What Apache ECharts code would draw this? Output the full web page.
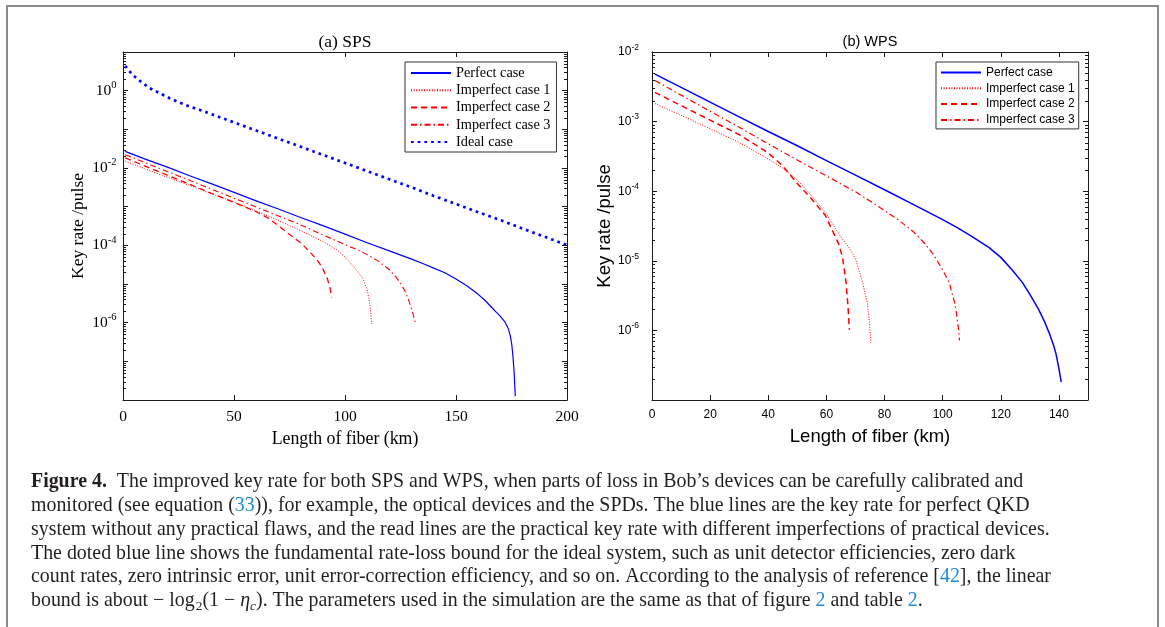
<!DOCTYPE html>
<html>
<head>
<meta charset="utf-8">
<title>Figure 4</title>
<script src="https://cdn.jsdelivr.net/npm/echarts@6/dist/echarts.min.js"></script>
<style>
  html, body { margin: 0; padding: 0; background: #fff; }
  #main { width: 1165px; height: 627px; }
</style>
</head>
<body>
<div id="main"></div>
<script>
// (a) SPS -- length of fiber (km) and key rate per pulse
const spsPerfectKm = [1, 10, 20, 30, 40, 50, 60, 70, 80, 90, 100, 110, 120, 130, 135, 140, 145, 150, 155, 160, 163, 166, 168, 170, 172, 173.5, 174.5, 175.2, 175.7, 176.2, 176.7];
const spsPerfectRate = [2.69e-2, 1.70e-2, 1.05e-2, 6.3e-3, 3.9e-3, 2.34e-3, 1.41e-3, 8.7e-4, 5.25e-4, 3.24e-4, 1.95e-4, 1.17e-4, 7.2e-5, 4.4e-5, 3.4e-5, 2.57e-5, 1.95e-5, 1.35e-5, 8.9e-6, 5.4e-6, 3.8e-6, 2.5e-6, 1.9e-6, 1.45e-6, 1.05e-6, 7.1e-7, 4.5e-7, 2.5e-7, 1.26e-7, 5.0e-8, 1.26e-8];
const spsCase1Km = [1, 10, 20, 30, 40, 50, 60, 70, 80, 90, 96, 100, 104, 108, 110, 111, 111.6, 112];
const spsCase1Rate = [1.51e-2, 9.5e-3, 5.75e-3, 3.55e-3, 2.14e-3, 1.32e-3, 7.8e-4, 4.4e-4, 2.4e-4, 1.26e-4, 7.9e-5, 5.0e-5, 2.8e-5, 1.41e-5, 7.1e-6, 3.5e-6, 1.86e-6, 9.3e-7];
const spsCase2Km = [1, 10, 20, 30, 40, 50, 60, 65, 70, 75, 80, 85, 88, 90, 92, 93.2, 94];
const spsCase2Rate = [1.82e-2, 1.12e-2, 6.5e-3, 3.8e-3, 2.19e-3, 1.29e-3, 7.4e-4, 5.25e-4, 3.24e-4, 1.91e-4, 1.17e-4, 6.0e-5, 3.8e-5, 2.5e-5, 1.41e-5, 8.1e-6, 4.5e-6];
const spsCase3Km = [1, 10, 20, 30, 40, 50, 60, 70, 80, 90, 100, 105, 110, 115, 120, 123, 125, 127, 128.5, 130, 131, 131.8];
const spsCase3Rate = [2.21e-2, 1.38e-2, 8.1e-3, 4.8e-3, 2.82e-3, 1.66e-3, 9.8e-4, 5.75e-4, 3.39e-4, 1.86e-4, 1.05e-4, 7.9e-5, 5.75e-5, 3.9e-5, 2.34e-5, 1.51e-5, 1.05e-5, 6.6e-6, 4.1e-6, 2.24e-6, 1.41e-6, 9.3e-7];
const spsIdealKm = [1, 2.7, 4.5, 8, 12, 17, 21, 26, 30, 35, 40, 50, 60, 70, 80, 90, 100, 110, 120, 130, 140, 150, 160, 170, 180, 190, 200];
const spsIdealRate = [4.37, 3.27, 2.51, 1.72, 1.17, 0.832, 0.638, 0.479, 0.389, 0.313, 0.245, 0.151, 0.0933, 0.0575, 0.0355, 0.0219, 0.0135, 8.3e-3, 5.1e-3, 3.16e-3, 1.9e-3, 1.17e-3, 7.2e-4, 4.5e-4, 2.7e-4, 1.66e-4, 1.02e-4];

// (b) WPS
const wpsPerfectKm = [1, 10, 20, 30, 40, 50, 60, 70, 80, 90, 100, 105, 110, 116, 120, 124, 127.4, 130, 133, 135, 136.6, 138, 139, 140, 140.8];
const wpsPerfectRate = [4.8e-3, 3.1e-3, 1.9e-3, 1.17e-3, 7.2e-4, 4.5e-4, 2.75e-4, 1.7e-4, 1.05e-4, 6.4e-5, 3.9e-5, 3.0e-5, 2.25e-5, 1.55e-5, 1.12e-5, 7.3e-6, 4.9e-6, 3.3e-6, 2.0e-6, 1.35e-6, 9.3e-7, 6.4e-7, 4.6e-7, 2.8e-7, 1.8e-7];
const wpsCase1Km = [1, 10, 20, 30, 40, 45, 50, 55, 60, 64.5, 68, 70, 72.4, 74.1, 74.9, 75.3];
const wpsCase1Rate = [1.82e-3, 1.23e-3, 7.9e-4, 5.0e-4, 2.9e-4, 2.14e-4, 1.45e-4, 8.5e-5, 4.7e-5, 2.34e-5, 1.51e-5, 1.07e-5, 5.0e-6, 2.45e-6, 1.15e-6, 6.6e-7];
const wpsCase2Km = [1, 10, 20, 30, 40, 45, 50, 54.5, 59.6, 62.3, 64.2, 65.5, 66.8, 67.5, 67.9];
const wpsCase2Rate = [2.63e-3, 1.7e-3, 1.05e-3, 6.5e-4, 3.55e-4, 2.3e-4, 1.29e-4, 8.1e-5, 4.5e-5, 2.6e-5, 1.75e-5, 1.15e-5, 4.8e-6, 2.0e-6, 1.02e-6];
const wpsCase3Km = [1, 10, 20, 30, 40, 50, 60, 70, 78, 85, 90, 94, 97, 100, 102.3, 104, 104.6, 105.2, 105.5, 105.8];
const wpsCase3Rate = [3.9e-3, 2.4e-3, 1.41e-3, 8.3e-4, 4.8e-4, 2.8e-4, 1.66e-4, 9.8e-5, 6.0e-5, 3.8e-5, 2.6e-5, 1.74e-5, 1.2e-5, 7.4e-6, 4.8e-6, 2.6e-6, 1.95e-6, 1.26e-6, 1.0e-6, 7.2e-7];

// axes: [min, max, interval] and the powers of ten that get a label
const spsXRange = [0, 200, 50];
const wpsXRange = [0, 150, 20];
const spsYExpRange = [-8, 1];
const wpsYExpRange = [-7, -2];
const spsYLabelExps = [0, -2, -4, -6];
const wpsYLabelExps = [-2, -3, -4, -5, -6];

const spsLegend = ['Perfect case', 'Imperfect case 1', 'Imperfect case 2', 'Imperfect case 3', 'Ideal case'];
const wpsLegend = ['Perfect case', 'Imperfect case 1', 'Imperfect case 2', 'Imperfect case 3'];

const captionLines = [
  '{b|Figure 4.}  The improved key rate for both SPS and WPS, when parts of loss in Bob\u2019s devices can be carefully calibrated and',
  'monitored (see equation ({l|33})), for example, the optical devices and the SPDs. The blue lines are the key rate for perfect QKD',
  'system without any practical flaws, and the read lines are the practical key rate with different imperfections of practical devices.',
  'The doted blue line shows the fundamental rate-loss bound for the ideal system, such as unit detector efficiencies, zero dark',
  'count rates, zero intrinsic error, unit error-correction efficiency, and so on. According to the analysis of reference [{l|42}], the linear',
  'bound is about \u2212 log{d|2}(1 \u2212 {i|\u03b7}{c|c}). The parameters used in the simulation are the same as that of figure {l|2} and table {l|2}.'
];

const SERIF = '"Liberation Serif", "DejaVu Serif", serif';
const SANS = '"Liberation Sans", Arial, sans-serif';
const AXIS = '#1a1a1a';
const BLUE = '#0000ff';
const RED = '#ff0000';
const CAP = 19.9;

const lineLook = {
  'Perfect case': { color: BLUE, type: 'solid', width: 1.2 },
  'Imperfect case 1': { color: RED, type: [1, 1.6], width: 1 },
  'Imperfect case 2': { color: RED, type: [6, 4], width: 1.3 },
  'Imperfect case 3': { color: RED, type: [6, 3, 1.5, 3], width: 1.1 },
  'Ideal case': { color: BLUE, type: [2.7, 4], width: 2.7 }
};

function pairs(xs, ys) {
  return xs.map(function (x, i) { return [x, ys[i]]; });
}

function curve(name, axisIdx, km, rate, width) {
  const look = lineLook[name];
  return {
    type: 'line', name: name, xAxisIndex: axisIdx, yAxisIndex: axisIdx,
    data: pairs(km, rate),
    showSymbol: false, symbol: 'none', animation: false, silent: true, z: 2,
    itemStyle: { color: look.color },
    lineStyle: { color: look.color, type: look.type, width: width || look.width, cap: 'butt', join: 'round' }
  };
}

// short inside ticks at 2..9 x 10^n on both vertical sides (MATLAB style)
function minorTicks(axisIdx, xMax, expRange) {
  const vals = [];
  for (let e = expRange[0]; e < expRange[1]; e++) {
    for (let k = 2; k <= 9; k++) vals.push([0, k * Math.pow(10, e)]);
  }
  return {
    type: 'custom', xAxisIndex: axisIdx, yAxisIndex: axisIdx, silent: true, clip: false, z: 3,
    animation: false, data: vals,
    renderItem: function (params, api) {
      const l = api.coord([0, api.value(1)]);
      const r = api.coord([xMax, api.value(1)]);
      const y = Math.round(l[1]) + 0.5;
      return {
        type: 'group', children: [
          { type: 'line', shape: { x1: l[0], y1: y, x2: l[0] + 3, y2: y }, style: { stroke: AXIS, lineWidth: 1 } },
          { type: 'line', shape: { x1: r[0], y1: y, x2: r[0] - 3, y2: y }, style: { stroke: AXIS, lineWidth: 1 } }
        ]
      };
    }
  };
}

function xAxes(gridIndex, range, font, labelSize, nameSize) {
  const base = {
    type: 'value', gridIndex: gridIndex, min: range[0], max: range[1], interval: range[2],
    splitLine: { show: false },
    axisLine: { onZero: false, lineStyle: { color: AXIS, width: 1 } },
    axisTick: { inside: true, length: 5, lineStyle: { color: AXIS } }
  };
  return [
    Object.assign({}, base, {
      position: 'bottom',
      axisLabel: { margin: 9, color: '#000', fontFamily: font, fontSize: labelSize, showMaxLabel: range[1] % range[2] === 0 },
      name: 'Length of fiber (km)', nameLocation: 'middle', nameGap: 27,
      nameTextStyle: { fontFamily: font, fontSize: nameSize, color: '#000' }
    }),
    Object.assign({}, base, { position: 'top', axisLabel: { show: false } })
  ];
}

function yAxes(gridIndex, expRange, labelExps, font, baseSize, supSize, supLift, margin, nameSize, nameGap) {
  const base = {
    type: 'log', logBase: 10, gridIndex: gridIndex,
    min: Math.pow(10, expRange[0]), max: Math.pow(10, expRange[1]),
    splitLine: { show: false },
    axisLine: { onZero: false, lineStyle: { color: AXIS, width: 1 } },
    axisTick: { inside: true, length: 5, lineStyle: { color: AXIS } }
  };
  return [
    Object.assign({}, base, {
      position: 'left',
      axisLabel: {
        margin: margin,
        formatter: function (v) {
          const e = Math.round(Math.log10(v));
          return labelExps.indexOf(e) >= 0 ? '{b|10}{s|' + e + '}' : '';
        },
        rich: {
          b: { fontFamily: font, fontSize: baseSize, color: '#000' },
          s: { fontFamily: font, fontSize: supSize, color: '#000', padding: [0, 0, supLift, 0] }
        }
      },
      name: 'Key rate /pulse', nameLocation: 'middle', nameGap: nameGap, nameRotate: 90,
      nameTextStyle: { fontFamily: font, fontSize: nameSize, color: '#000' }
    }),
    Object.assign({}, base, { position: 'right', axisLabel: { show: false } })
  ];
}

function legendBox(names, left, top, padding, gap, itemHeight, font, size) {
  return {
    data: names, orient: 'vertical', left: left, top: top, padding: padding,
    itemGap: gap, itemWidth: 40, itemHeight: itemHeight, selectedMode: false,
    borderColor: '#333', borderWidth: 1, borderRadius: 0, backgroundColor: '#fff',
    itemStyle: { opacity: 0 },
    textStyle: { fontFamily: font, fontSize: size, color: '#000', lineHeight: itemHeight }
  };
}

const captionRich = {
  b: { fontFamily: SERIF, fontSize: CAP, fontWeight: 'bold', fill: '#231f20' },
  l: { fontFamily: SERIF, fontSize: CAP, fill: '#1f8ad2' },
  i: { fontFamily: SERIF, fontSize: CAP, fontStyle: 'italic', fill: '#231f20' },
  d: { fontFamily: SERIF, fontSize: 13.5, fill: '#231f20', padding: [10, 0, 0, 1] },
  c: { fontFamily: SERIF, fontSize: 13.5, fontStyle: 'italic', fill: '#231f20', padding: [10, 0, 0, 0] }
};

const graphics = [
  { type: 'rect', silent: true, shape: { x: 7, y: 6, width: 1151, height: 700 },
    style: { fill: 'none', stroke: '#8a8a8a', lineWidth: 2 } },
  { type: 'text', silent: true, style: { x: 345, y: 42, text: '(a) SPS', align: 'center', verticalAlign: 'middle',
    fontFamily: SERIF, fontSize: 17.5, fill: '#000' } },
  { type: 'text', silent: true, style: { x: 870, y: 42, text: '(b) WPS', align: 'center', verticalAlign: 'middle',
    fontFamily: SANS, fontSize: 14.5, fill: '#000' } }
];
captionLines.forEach(function (t, i) {
  graphics.push({
    type: 'text', silent: true,
    style: { x: 31, y: 482 + i * 23.8, text: t, align: 'left', verticalAlign: 'middle',
      fontFamily: SERIF, fontSize: CAP, fill: '#231f20', rich: captionRich }
  });
});

const chart = echarts.init(document.getElementById('main'), null, { renderer: 'canvas' });

chart.setOption({
  animation: false,
  backgroundColor: '#fff',
  grid: [
    { left: 123, top: 52, width: 444, height: 348 },
    { left: 652, top: 52, width: 436, height: 348 }
  ],
  xAxis: xAxes(0, spsXRange, SERIF, 15.5, 17.8).concat(xAxes(1, wpsXRange, SANS, 12, 18.5))
    .map(function (a, i) { return Object.assign(a, { gridIndex: i < 2 ? 0 : 1 }); }),
  yAxis: yAxes(0, spsYExpRange, spsYLabelExps, SERIF, 15.5, 10.5, 11, 6.5, 17.5, 36)
    .concat(yAxes(1, wpsYExpRange, wpsYLabelExps, SANS, 12, 8.5, 9, 13, 18.5, 35)),
  legend: [
    legendBox(spsLegend, 405, 62, [4, 6, 3, 5], 3.25, 14, SERIF, 14.3),
    legendBox(wpsLegend, 936, 62, [4.5, 4, 3, 4], 3.8, 12, SANS, 12)
  ],
  graphic: graphics,
  series: [
    curve('Perfect case', 0, spsPerfectKm, spsPerfectRate),
    curve('Imperfect case 1', 0, spsCase1Km, spsCase1Rate),
    curve('Imperfect case 2', 0, spsCase2Km, spsCase2Rate),
    curve('Imperfect case 3', 0, spsCase3Km, spsCase3Rate),
    curve('Ideal case', 0, spsIdealKm, spsIdealRate),
    minorTicks(0, spsXRange[1], spsYExpRange),
    // the top x axis / right y axis carry no data, so WPS uses indices 2
    curve('Perfect case', 2, wpsPerfectKm, wpsPerfectRate, 1.5),
    curve('Imperfect case 1', 2, wpsCase1Km, wpsCase1Rate),
    curve('Imperfect case 2', 2, wpsCase2Km, wpsCase2Rate, 1.5),
    curve('Imperfect case 3', 2, wpsCase3Km, wpsCase3Rate, 1.2),
    minorTicks(2, wpsXRange[1], wpsYExpRange)
  ]
});
</script>
</body>
</html>
